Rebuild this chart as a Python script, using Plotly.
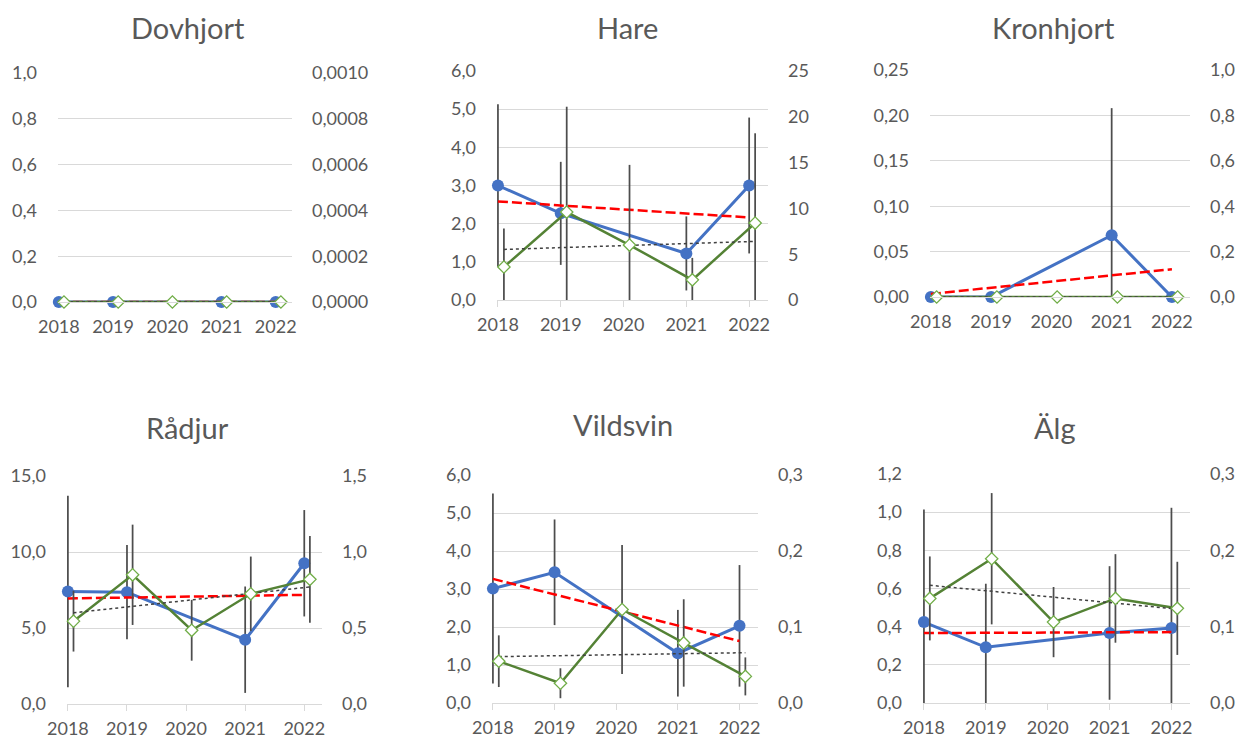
import numpy as np
import plotly.graph_objects as go

# ---------------- data ----------------
years = [2018, 2019, 2020, 2021, 2022]
titles = ["Dovhjort", "Hare", "Kronhjort", "Rådjur", "Vildsvin", "Älg"]

dovhjort_blue = [0.0, 0.0, None, 0.0, 0.0]
dovhjort_blue_err = [0.0, 0.0, None, 0.0, 0.0]
dovhjort_green = [0.0, 0.0, 0.0, 0.0, 0.0]
dovhjort_green_err = [0.0, 0.0, 0.0, 0.0, 0.0]

hare_blue = [3.0, 2.27, None, 1.22, 3.0]
hare_blue_err = [2.13, 1.35, None, 0.97, 1.78]
hare_green = [3.6, 9.6, 6.0, 2.2, 8.4]
hare_green_err = [4.2, 11.5, 8.75, 2.4, 9.8]

kronhjort_blue = [0.0, 0.0, None, 0.068, 0.0]
kronhjort_blue_err = [0.0, 0.0, None, 0.14, 0.0]
kronhjort_green = [0.0, 0.0, 0.0, 0.0, 0.0]
kronhjort_green_err = [0.0, 0.0, 0.0, 0.0, 0.0]

radjur_blue = [7.4, 7.36, None, 4.23, 9.26]
radjur_blue_err = [6.3, 3.1, None, 3.5, 3.5]
radjur_green = [0.545, 0.85, 0.485, 0.725, 0.82]
radjur_green_err = [0.2, 0.33, 0.2, 0.245, 0.286]

vildsvin_blue = [3.01, 3.44, None, 1.31, 2.03]
vildsvin_blue_err = [2.5, 1.39, None, 1.14, 1.6]
vildsvin_green = [0.055, 0.026, 0.123, 0.079, 0.035]
vildsvin_green_err = [0.034, 0.0197, 0.085, 0.0575, 0.025]

alg_blue = [0.424, 0.292, None, 0.367, 0.393]
alg_blue_err = [0.59, 0.333, None, 0.35, 0.63]
alg_green = [0.137, 0.189, 0.106, 0.137, 0.124]
alg_green_err = [0.055, 0.086, 0.046, 0.058, 0.061]

blue_series = [dovhjort_blue, hare_blue, kronhjort_blue, radjur_blue, vildsvin_blue, alg_blue]
blue_errors = [dovhjort_blue_err, hare_blue_err, kronhjort_blue_err, radjur_blue_err, vildsvin_blue_err, alg_blue_err]
green_series = [dovhjort_green, hare_green, kronhjort_green, radjur_green, vildsvin_green, alg_green]
green_errors = [dovhjort_green_err, hare_green_err, kronhjort_green_err, radjur_green_err, vildsvin_green_err, alg_green_err]

# axis scales: (max, step, format)
left_axes = [(1.0, 0.2, ".1f"), (6.0, 1.0, ".1f"), (0.25, 0.05, ".2f"),
             (15.0, 5.0, ".1f"), (6.0, 1.0, ".1f"), (1.2, 0.2, ".1f")]
right_axes = [(0.001, 0.0002, ".4f"), (25, 5, "d"), (1.0, 0.2, ".1f"),
              (1.5, 0.5, ".1f"), (0.3, 0.1, ".1f"), (0.3, 0.1, ".1f")]

# ---------------- style / layout ----------------
OFF = 8                      # page body margin in the browser
W, H = 1253 - OFF, 742 - OFF  # figure size so it fits the window exactly
# plot boxes in window pixels: left, right, top, bottom
boxes = [(58, 292, 73, 302), (497, 768, 71, 300), (930, 1190, 70, 297),
         (67, 322, 476, 704), (492, 758, 475, 703), (923, 1190, 474, 703)]
# title anchor (centre x, top of text box) in window pixels
title_pos = [(188, 8.5), (627, 8.5), (1053, 8.5), (187, 409), (623, 406), (1055, 409)]
show_xticks = [False, True, False, True, True, True]

BLUE = "#4472C4"
GREEN_LINE = "#548235"
GREEN_MARK = "#70AD47"
ERR = "#4D4D4D"
GRID = "#D9D9D9"
TXT = "#595959"
FONT = "Lato"
X_LO, X_HI = 2017.985, 2022.3
SHIFT = 0.095


def aid(n):
    return "" if n == 1 else str(n)


def trend(xs, ys):
    pts = [(x, y) for x, y in zip(xs, ys) if y is not None]
    px = np.array([p[0] for p in pts], dtype=float)
    py = np.array([p[1] for p in pts], dtype=float)
    a, b = np.polyfit(px - xs[0], py, 1)
    ends = [xs[0], xs[-1]]
    return ends, [a * (e - xs[0]) + b for e in ends]


def ticks(top, step):
    n = int(round(top / step))
    return [round(k * step, 8) for k in range(n + 1)]


def fx(px):
    return (px - OFF) / W


def fy(py):
    return 1 - (py - OFF) / H


fig = go.Figure()
layout = dict(width=W, height=H, margin=dict(l=0, r=0, t=0, b=0, pad=0),
              paper_bgcolor="white", plot_bgcolor="white", showlegend=False,
              separators=", ", annotations=[])

for i in range(6):
    na, nb = 2 * i + 1, 2 * i + 2
    xa, xb, ya, yb = "x" + aid(na), "x" + aid(nb), "y" + aid(na), "y" + aid(nb)
    l, r, t, b = boxes[i]
    xdom = [fx(l), fx(r)]
    ydom = [fy(b), fy(t)]

    # primary (blue) series
    fig.add_trace(go.Scatter(x=years, y=blue_series[i], mode="lines", connectgaps=True,
                             line=dict(color=BLUE, width=3),
                             error_y=dict(type="data", array=blue_errors[i], color=ERR,
                                          thickness=1.75, width=0),
                             xaxis=xa, yaxis=ya, hoverinfo="skip"))
    fig.add_trace(go.Scatter(x=years, y=blue_series[i], mode="markers",
                             marker=dict(symbol="circle", size=12, color=BLUE),
                             cliponaxis=False, xaxis=xa, yaxis=ya, hoverinfo="skip"))
    tx, ty = trend(years, blue_series[i])
    fig.add_trace(go.Scatter(x=tx, y=ty, mode="lines",
                             line=dict(color="#FF0000", width=2.5, dash="10px,4px"),
                             xaxis=xa, yaxis=ya, hoverinfo="skip"))

    # secondary (green) series
    fig.add_trace(go.Scatter(x=years, y=green_series[i], mode="lines", connectgaps=True,
                             line=dict(color=GREEN_LINE, width=2.5),
                             error_y=dict(type="data", array=green_errors[i], color=ERR,
                                          thickness=1.75, width=0),
                             xaxis=xb, yaxis=yb, hoverinfo="skip"))
    gx, gy = trend(years, green_series[i])
    fig.add_trace(go.Scatter(x=gx, y=gy, mode="lines",
                             line=dict(color="#404040", width=1.5, dash="3px,3px"),
                             xaxis=xb, yaxis=yb, hoverinfo="skip"))
    fig.add_trace(go.Scatter(x=years, y=green_series[i], mode="markers",
                             marker=dict(symbol="diamond", size=9.5, color="white",
                                         line=dict(color=GREEN_MARK, width=1.3)),
                             cliponaxis=False, xaxis=xb, yaxis=yb, hoverinfo="skip"))

    tickfont = dict(family=FONT, size=18, color=TXT)
    layout["xaxis" + aid(na)] = dict(
        domain=xdom, range=[X_LO, X_HI], anchor=ya, tickmode="array",
        tickvals=years, ticktext=[str(y) for y in years], showgrid=False,
        zeroline=False, showline=True, linecolor=GRID, linewidth=1,
        ticks="outside", ticklen=6,
        tickcolor=GRID if show_xticks[i] else "rgba(0,0,0,0)",
        tickfont=tickfont, ticklabelstandoff=2, automargin=False, fixedrange=True)
    layout["xaxis" + aid(nb)] = dict(
        domain=xdom, range=[X_LO - SHIFT, X_HI - SHIFT], overlaying=xa, anchor=yb,
        visible=False, automargin=False, fixedrange=True)
    ltop, lstep, lfmt = left_axes[i]
    layout["yaxis" + aid(na)] = dict(
        domain=ydom, range=[0, ltop], anchor=xa, side="left", tickmode="array",
        tickvals=ticks(ltop, lstep), tickformat=lfmt, showgrid=True, gridcolor=GRID,
        gridwidth=1, zeroline=False, showline=False, ticks="", tickfont=tickfont,
        ticklabelstandoff=20, automargin=False, fixedrange=True)
    rtop, rstep, rfmt = right_axes[i]
    layout["yaxis" + aid(nb)] = dict(
        domain=ydom, range=[0, rtop], anchor=xb, overlaying=ya, side="right",
        tickmode="array", tickvals=ticks(rtop, rstep), tickformat=rfmt,
        showgrid=False, zeroline=False, showline=False, ticks="", tickfont=tickfont,
        ticklabelstandoff=19, automargin=False, fixedrange=True)

    cx, cy = title_pos[i]
    layout["annotations"].append(dict(
        text=titles[i], xref="paper", yref="paper", x=fx(cx), y=fy(cy),
        xanchor="center", yanchor="top", borderpad=0, showarrow=False,
        font=dict(family=FONT, size=29, color=TXT)))

fig.update_layout(**layout)
fig.write_html("out.html")
